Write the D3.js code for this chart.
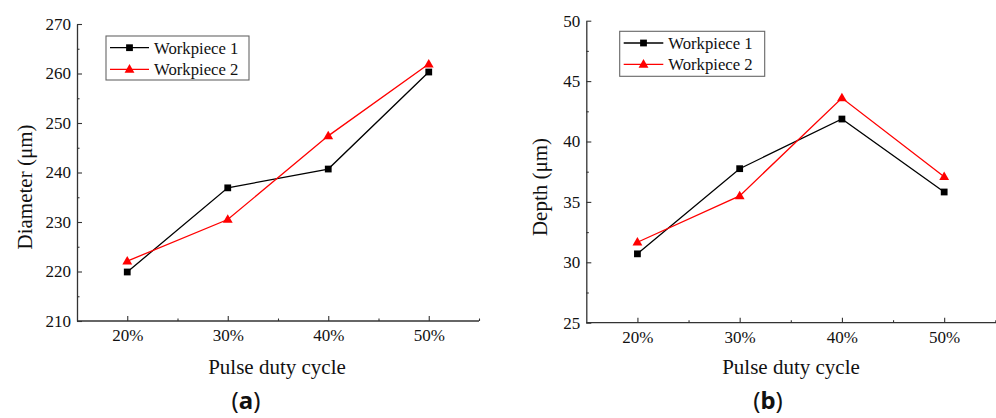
<!DOCTYPE html>
<html>
<head>
<meta charset="utf-8">
<script src="https://cdn.jsdelivr.net/npm/d3@7"></script>
<style>
  html, body { margin: 0; padding: 0; background: #fff; }
  svg { display: block; }
  svg text { font-family: "Liberation Serif", "Times New Roman", serif; fill: #111; }
</style>
</head>
<body>
<svg id="chart" width="996" height="418" font-family="Liberation Serif, serif"></svg>
<script>
// ---- Data ----
const categories = ["20%", "30%", "40%", "50%"];
const categoryValues = [20, 30, 40, 50];
const seriesNames = ["Workpiece 1", "Workpiece 2"];
const diameterWorkpiece1 = [219.9, 236.9, 240.7, 260.3];
const diameterWorkpiece2 = [222.1, 230.5, 247.4, 261.9];
const depthWorkpiece1 = [30.7, 37.75, 41.86, 35.82];
const depthWorkpiece2 = [31.66, 35.5, 43.6, 37.09];
const diameterTicks = [210, 220, 230, 240, 250, 260, 270];
const depthTicks = [25, 30, 35, 40, 45, 50];
const xMinorTicks = [25, 35, 45, 55];

// ---- Layout ----
const SERIF = '"Liberation Serif", "Times New Roman", serif';
const panels = [
  {
    x0: 77, x1: 479, yTop: 24, yBot: 321,
    yTicks: diameterTicks, s1: diameterWorkpiece1, s2: diameterWorkpiece2,
    ylabel: "Diameter (μm)", ylabelX: 31.5, ylabelY: 187,
    xlabelX: 277, tag: "a", tagX: 246,
    legend: { x: 106, y: 36, w: 143, h: 44, l0: 110, l1: 149, rows: [47.7, 69.3], tx: 154 }
  },
  {
    x0: 586.3, x1: 996, yTop: 20.7, yBot: 322.7,
    yTicks: depthTicks, s1: depthWorkpiece1, s2: depthWorkpiece2,
    ylabel: "Depth (μm)", ylabelX: 546.5, ylabelY: 187,
    xlabelX: 791, tag: "b", tagX: 768,
    legend: { x: 619.7, y: 31.3, w: 145, h: 45, l0: 623.7, l1: 663.3, rows: [43, 64.3], tx: 668.3 }
  }
];
const colors = ["#000000", "#ff0000"];
const shapes = [d3.symbolSquare, d3.symbolTriangle];
const shapeSizes = [46, 42];

const svg = d3.select("#chart");

panels.forEach(p => {
  const yMin = p.yTicks[0], yMax = p.yTicks[p.yTicks.length - 1];
  const step = p.yTicks[1] - p.yTicks[0];
  const plotW = Math.min(p.x1 - p.x0, 409);
  const x = d3.scaleLinear().domain([15, 55]).range([p.x0, p.x0 + plotW]);
  const xAxisEnd = p.x1;
  const y = d3.scaleLinear().domain([yMin, yMax]).range([p.yBot, p.yTop]);
  const yMinor = p.yTicks.slice(0, -1).map(v => v + step / 2);

  const g = svg.append("g");

  // Y axis major
  const yAx = g.append("g").attr("transform", `translate(${p.x0},0)`)
    .call(d3.axisLeft(y).tickValues(p.yTicks).tickSizeInner(-5).tickSizeOuter(0).tickPadding(6).tickFormat(d3.format("d")));
  yAx.attr("font-family", SERIF).attr("font-size", 17);
  yAx.select(".domain").attr("stroke", "#333").attr("stroke-width", 1.3);
  yAx.selectAll(".tick line").attr("stroke", "#333").attr("stroke-width", 1.1);
  yAx.selectAll(".tick text").attr("fill", "#111")
    .style("font-family", SERIF).style("font-size", "17px");
  // Y axis minor
  const yMi = g.append("g").attr("transform", `translate(${p.x0},0)`)
    .call(d3.axisLeft(y).tickValues(yMinor).tickSizeInner(-2.5).tickSizeOuter(0).tickFormat(""));
  yMi.select(".domain").remove();
  yMi.selectAll(".tick line").attr("stroke", "#333").attr("stroke-width", 1.1);

  // X axis major
  const xAx = g.append("g").attr("transform", `translate(0,${p.yBot})`)
    .call(d3.axisBottom(x).tickValues(categoryValues).tickSizeInner(-5).tickSizeOuter(0).tickPadding(8)
      .tickFormat((d, i) => categories[i]));
  xAx.attr("font-family", SERIF).attr("font-size", 17);
  xAx.select(".domain").attr("d", `M${p.x0},0H${xAxisEnd}`).attr("stroke", "#333").attr("stroke-width", 1.3);
  xAx.selectAll(".tick line").attr("stroke", "#333").attr("stroke-width", 1.1);
  xAx.selectAll(".tick text").attr("fill", "#111")
    .style("font-family", SERIF).style("font-size", "17px");
  // X axis minor
  const xMi = g.append("g").attr("transform", `translate(0,${p.yBot})`)
    .call(d3.axisBottom(x).tickValues(xMinorTicks.filter(v => x(v) <= xAxisEnd)).tickSizeInner(-2.5).tickSizeOuter(0).tickFormat(""));
  xMi.select(".domain").remove();
  xMi.selectAll(".tick line").attr("stroke", "#333").attr("stroke-width", 1.1);

  // Series
  [p.s1, p.s2].forEach((vals, si) => {
    const pts = vals.map((v, i) => [x(categoryValues[i]), y(v)]);
    g.append("path").attr("d", d3.line()(pts))
      .attr("fill", "none").attr("stroke", colors[si]).attr("stroke-width", 1.3);
    g.selectAll(null).data(pts).enter().append("path")
      .attr("d", d3.symbol().type(shapes[si]).size(shapeSizes[si]))
      .attr("transform", d => `translate(${d[0]},${d[1] + (si === 1 ? 0.5 : 0)})`)
      .attr("fill", colors[si]);
  });

  // Legend
  const L = p.legend;
  g.append("rect").attr("x", L.x).attr("y", L.y).attr("width", L.w).attr("height", L.h)
    .attr("fill", "#fff").attr("stroke", "#666").attr("stroke-width", 1.1);
  seriesNames.forEach((name, si) => {
    const ry = L.rows[si];
    g.append("line").attr("x1", L.l0).attr("x2", L.l1).attr("y1", ry).attr("y2", ry)
      .attr("stroke", colors[si]).attr("stroke-width", 1.3);
    g.append("path").attr("d", d3.symbol().type(shapes[si]).size(shapeSizes[si]))
      .attr("transform", `translate(${(L.l0 + L.l1) / 2},${ry + (si === 1 ? 0.5 : 0)})`)
      .attr("fill", colors[si]);
    g.append("text").attr("x", L.tx).attr("y", ry + 5.8)
      .style("font-family", SERIF).style("font-size", "16.7px").text(name);
  });

  // Axis titles
  g.append("text").attr("transform", `translate(${p.ylabelX},${p.ylabelY}) rotate(-90)`)
    .attr("text-anchor", "middle").style("font-family", SERIF).style("font-size", "21px").text(p.ylabel);
  g.append("text").attr("x", p.xlabelX).attr("y", 374.3).attr("text-anchor", "middle")
    .style("font-family", SERIF).style("font-size", "21px").text("Pulse duty cycle");

  // Panel tag
  const t = g.append("text").attr("x", p.tagX).attr("y", 409).attr("text-anchor", "middle")
    .style("font-family", '"Noto Sans", sans-serif').style("font-size", "24px");
  t.append("tspan").text("(");
  t.append("tspan").style("font-weight", "bold").text(p.tag);
  t.append("tspan").text(")");
});
</script>
</body>
</html>
